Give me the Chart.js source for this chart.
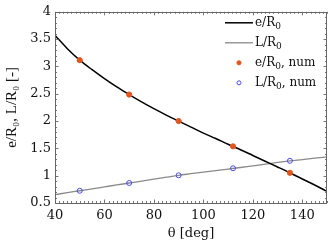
<!DOCTYPE html>
<html><head><meta charset="utf-8">
<script src="https://cdn.jsdelivr.net/npm/chart.js@4/dist/chart.umd.min.js"></script>
<style>html,body{margin:0;padding:0;background:#fff}#wrap{width:332px;height:242px}</style>
</head><body><div id="wrap"><canvas id="c" width="332" height="242"></canvas></div>
<script>
// ---- data ----
const thetaLine = [40,45,50,55,60,65,70,75,80,85,90,95,100,105,110,115,120,125,130,135,140,145,150];
const eLine =     [3.57,3.325,3.115,2.94,2.777,2.625,2.485,2.352,2.227,2.11,2.0,1.89,1.78,1.68,1.575,1.475,1.37,1.265,1.16,1.053,0.94,0.83,0.712];
const lLine =     [0.653,0.689,0.724,0.760,0.795,0.830,0.866,0.901,0.937,0.972,1.007,1.036,1.065,1.094,1.122,1.150,1.18,1.21,1.242,1.272,1.295,1.32,1.343];
const thetaNum = [50,70,90,112,135];
const eNum = [3.115,2.485,2.0,1.537,1.053];
const lNum = [0.724,0.866,1.007,1.136,1.272];
const xTickLabels = ['40','60','80','100','120','140'];
const yTickLabels = ['0.5','1','1.5','2','2.5','3','3.5','4'];
const seriesLabels = ['e/R₀','L/R₀','e/R₀, num','L/R₀, num'];
const xTitle = 'θ [deg]';
const yTitle = 'e/R₀, L/R₀ [-]';

const FONT = 'DejaVu Serif';
const toXY = (xs, ys) => xs.map((x, i) => ({x: x, y: ys[i]}));

function drawSubText(ctx, text, x, y) {
  const parts = text.split('₀');
  let cx = x;
  for (let i = 0; i < parts.length; i++) {
    ctx.font = '12px "' + FONT + '"';
    ctx.fillText(parts[i], cx, y);
    cx += ctx.measureText(parts[i]).width;
    if (i < parts.length - 1) {
      ctx.font = '9px "' + FONT + '"';
      ctx.fillText('0', cx, y + 4);
      cx += ctx.measureText('0').width;
    }
  }
}

const framePlugin = {
  id: 'frame',
  afterDatasetsDraw(chart) {
    const ctx = chart.ctx, a = chart.chartArea;
    const xs = chart.scales.x, ys = chart.scales.y;
    ctx.save();
    ctx.strokeStyle = '#777';
    ctx.lineWidth = 1;
    ctx.beginPath();
    for (let k = 0; k <= 66; k++) {
      const v = 40 + k * 20 / 12;
      if (v > 150.001) break;
      const px = Math.round(xs.getPixelForValue(v)) + 0.5;
      const len = (k % 12 === 0) ? 3.5 : 2;
      ctx.moveTo(px, a.bottom); ctx.lineTo(px, a.bottom - len);
      ctx.moveTo(px, a.top); ctx.lineTo(px, a.top + len);
    }
    for (let k = 0; k <= 35; k++) {
      const v = 0.5 + k * 0.1;
      const py = Math.round(ys.getPixelForValue(v)) + 0.5;
      const len = (k % 5 === 0) ? 3.5 : 2;
      ctx.moveTo(a.left, py); ctx.lineTo(a.left + len, py);
      ctx.moveTo(a.right, py); ctx.lineTo(a.right - len, py);
    }
    ctx.stroke();
    ctx.strokeStyle = '#666';
    ctx.strokeRect(Math.round(a.left) + 0.5, Math.round(a.top) + 0.5, Math.round(a.right - a.left) - 1, Math.round(a.bottom - a.top));
    ctx.restore();
  },
  afterDraw(chart) {
    const ctx = chart.ctx, a = chart.chartArea;
    const ds = chart.data.datasets;
    ctx.save();
    ctx.textBaseline = 'middle';
    const x0 = a.right - 102;
    for (let i = 0; i < ds.length; i++) {
      const y = a.top + 11 + i * 20;
      const d = ds[i];
      if (d.pointRadius === 0) {
        ctx.strokeStyle = d.borderColor; ctx.lineWidth = d.borderWidth;
        ctx.beginPath(); ctx.moveTo(x0, y); ctx.lineTo(x0 + 28, y); ctx.stroke();
      } else {
        ctx.beginPath(); ctx.arc(x0 + 14, y, d.pointRadius * 0.8, 0, Math.PI * 2);
        ctx.lineWidth = d.pointBorderWidth;
        if (d.pointBackgroundColor !== 'transparent') { ctx.fillStyle = d.pointBackgroundColor; ctx.fill(); }
        ctx.strokeStyle = d.pointBorderColor; ctx.stroke();
      }
      ctx.fillStyle = '#111';
      drawSubText(ctx, d.label, x0 + 30, y);
    }
    ctx.restore();
  }
};

new Chart(document.getElementById('c'), {
  type: 'scatter',
  data: {
    datasets: [
      {label: seriesLabels[0], data: toXY(thetaLine, eLine), showLine: true, pointRadius: 0, borderColor: '#000', borderWidth: 1.5, cubicInterpolationMode: 'monotone', order: 3},
      {label: seriesLabels[1], data: toXY(thetaLine, lLine), showLine: true, pointRadius: 0, borderColor: '#8a8a8a', borderWidth: 1.3, cubicInterpolationMode: 'monotone', order: 4},
      {label: seriesLabels[2], data: toXY(thetaNum, eNum), showLine: false, pointRadius: 2.6, pointStyle: 'circle', pointBackgroundColor: '#e2561e', pointBorderColor: '#e2561e', pointBorderWidth: 1, order: 1},
      {label: seriesLabels[3], data: toXY(thetaNum, lNum), showLine: false, pointRadius: 2.5, pointStyle: 'circle', pointBackgroundColor: 'transparent', pointBorderColor: '#4b4bf0', pointBorderWidth: 1, order: 2}
    ]
  },
  options: {
    responsive: false,
    animation: false,
    devicePixelRatio: 1,
    layout: {padding: {top: 5, right: 2, left: 0, bottom: 0}},
    plugins: {legend: {display: false}, tooltip: {enabled: false}},
    scales: {
      x: {
        type: 'linear', min: 40, max: 150,
        grid: {display: false, drawTicks: false},
        border: {display: false},
        ticks: {stepSize: 20, includeBounds: false, padding: 5, color: '#111', font: {family: FONT, size: 13},
          callback: (v) => { const i = xTickLabels.indexOf(String(v)); return i >= 0 ? xTickLabels[i] : ''; }},
        title: {display: true, text: xTitle, color: '#111', font: {family: FONT, size: 13}, padding: {top: 0, bottom: 1}},
        afterFit: (s) => { s.height = 39; }
      },
      y: {
        type: 'linear', min: 0.5, max: 4,
        grid: {display: false, drawTicks: false},
        border: {display: false},
        ticks: {stepSize: 0.5, padding: 4, color: '#111', font: {family: FONT, size: 13},
          callback: (v) => { const i = Math.round((v - 0.5) / 0.5); return yTickLabels[i] !== undefined ? yTickLabels[i] : ''; }},
        title: {display: true, text: yTitle, color: '#111', font: {family: 'Liberation Serif', size: 15}, padding: {top: 3, bottom: 2}},
        afterFit: (s) => { s.width = 55; }
      }
    }
  },
  plugins: [framePlugin]
});
</script>
</body></html>
